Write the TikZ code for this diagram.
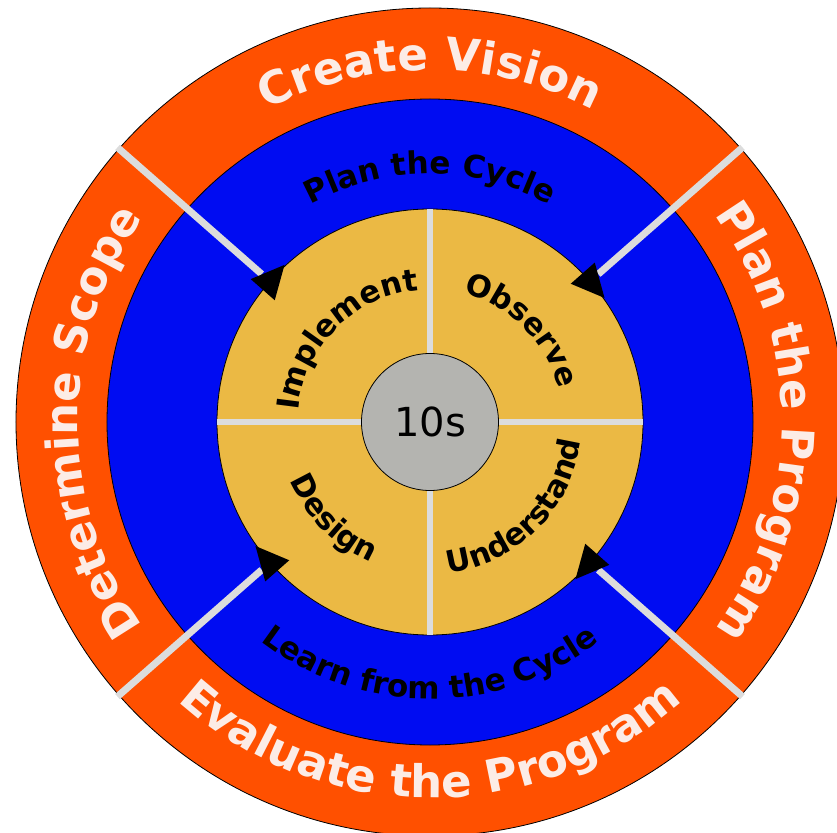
\documentclass[tikz,border=0pt]{standalone}
\usepackage{fontspec}
\setmainfont{DejaVu Sans}
\usetikzlibrary{decorations.text}
\definecolor{ringorange}{RGB}{255,80,0}
\definecolor{ringblue}{RGB}{0,12,242}
\definecolor{ringgold}{RGB}{235,185,68}
\definecolor{hubgrey}{RGB}{180,180,176}
\definecolor{spokegrey}{RGB}{220,220,220}
\definecolor{lighttext}{RGB}{252,236,230}
\newcommand{\orfont}{\fontsize{45pt}{50pt}\selectfont\bfseries}
\newcommand{\blfont}{\fontsize{31pt}{35pt}\selectfont\bfseries}
\newcommand{\yefont}{\fontsize{30.5pt}{34pt}\selectfont\bfseries}
\begin{document}
\begin{tikzpicture}[x=1pt,y=1pt,
  ringline/.style={draw=black, line width=0.8pt},
  spokeline/.style={draw=spokegrey, line width=7pt},
  crossline/.style={draw=spokegrey, line width=5.5pt},
  arrowtri/.style={fill=black},
  outertext/.style={decorate, decoration={text along path, text align=center, text color=lighttext, text={|\orfont|#1}}},
  bluetext/.style={decorate, decoration={text along path, text align=center, text color=black, text={|\blfont|#1}}},
  goldtext/.style={decorate, decoration={text along path, text align=center, text color=black, text={|\yefont|#1}}}
  ]
\useasboundingbox (-430,-410) rectangle (407,422);
\clip (-430,-410) rectangle (407,422);
\fill[white] (-430,-410) rectangle (407,422);

% rings
\draw[ringline, fill=ringorange] (0,0) circle[radius=414pt];
\draw[ringline, fill=ringblue] (0,0) circle[radius=323pt];

% spokes
\coordinate (ulout) at (138.7:416pt);
\coordinate (ulin)  at (138.7:224pt);
\coordinate (urout) at (41.3:416pt);
\coordinate (urin)  at (41.3:224pt);
\coordinate (llout) at (-138.7:416pt);
\coordinate (llin)  at (-138.7:224pt);
\coordinate (lrout) at (-41.3:416pt);
\coordinate (lrin)  at (-41.3:224pt);
\draw[spokeline] (ulout) -- (ulin);
\draw[spokeline] (urout) -- (urin);
\draw[spokeline] (llout) -- (llin);
\draw[spokeline] (lrout) -- (lrin);

% gold disc
\draw[ringline, fill=ringgold] (0,0) circle[radius=213pt];
\coordinate (gtop) at (90:213pt);
\coordinate (gbot) at (-90:213pt);
\coordinate (glft) at (180:213pt);
\coordinate (grgt) at (0:213pt);
\draw[crossline] (gtop) -- (gbot);
\draw[crossline] (glft) -- (grgt);

% hub
\node[circle, draw=black, line width=0.8pt, fill=hubgrey, minimum size=137pt, inner sep=0pt] (hub) at (0,0) {\fontsize{40pt}{44pt}\selectfont 10s};

% arrowheads (clockwise)
\foreach \a in {138.7, 41.3, -41.3, -138.7}{
  \fill[arrowtri, rotate=\a] (213,-22) -- (229,11) -- (197,11) -- cycle;
}

% outer ring texts
\path[outertext={Create Vision}] (150:352pt) arc[start angle=150, end angle=30, radius=352pt];
\path[outertext={Plan the Program}] (60:352pt) arc[start angle=60, end angle=-60, radius=352pt];
\path[outertext={Determine Scope}] (240:352pt) arc[start angle=240, end angle=120, radius=352pt];
\path[outertext={Evaluate the Program}] (-150:376pt) arc[start angle=-150, end angle=-30, radius=376pt];

% blue ring texts
\path[bluetext={Plan the Cycle}] (150:248pt) arc[start angle=150, end angle=30, radius=248pt];
\path[bluetext={Learn from the Cycle}] (-150:277pt) arc[start angle=-150, end angle=-30, radius=277pt];

% gold texts
\path[goldtext={Implement}] (180:132pt) arc[start angle=180, end angle=90, radius=132pt];
\path[goldtext={Observe}] (90:133pt) arc[start angle=90, end angle=0, radius=133pt];
\path[goldtext={Design}] (180:152pt) arc[start angle=180, end angle=270, radius=152pt];
\path[goldtext={Understand}] (270:152pt) arc[start angle=270, end angle=360, radius=152pt];
\end{tikzpicture}
\end{document}
